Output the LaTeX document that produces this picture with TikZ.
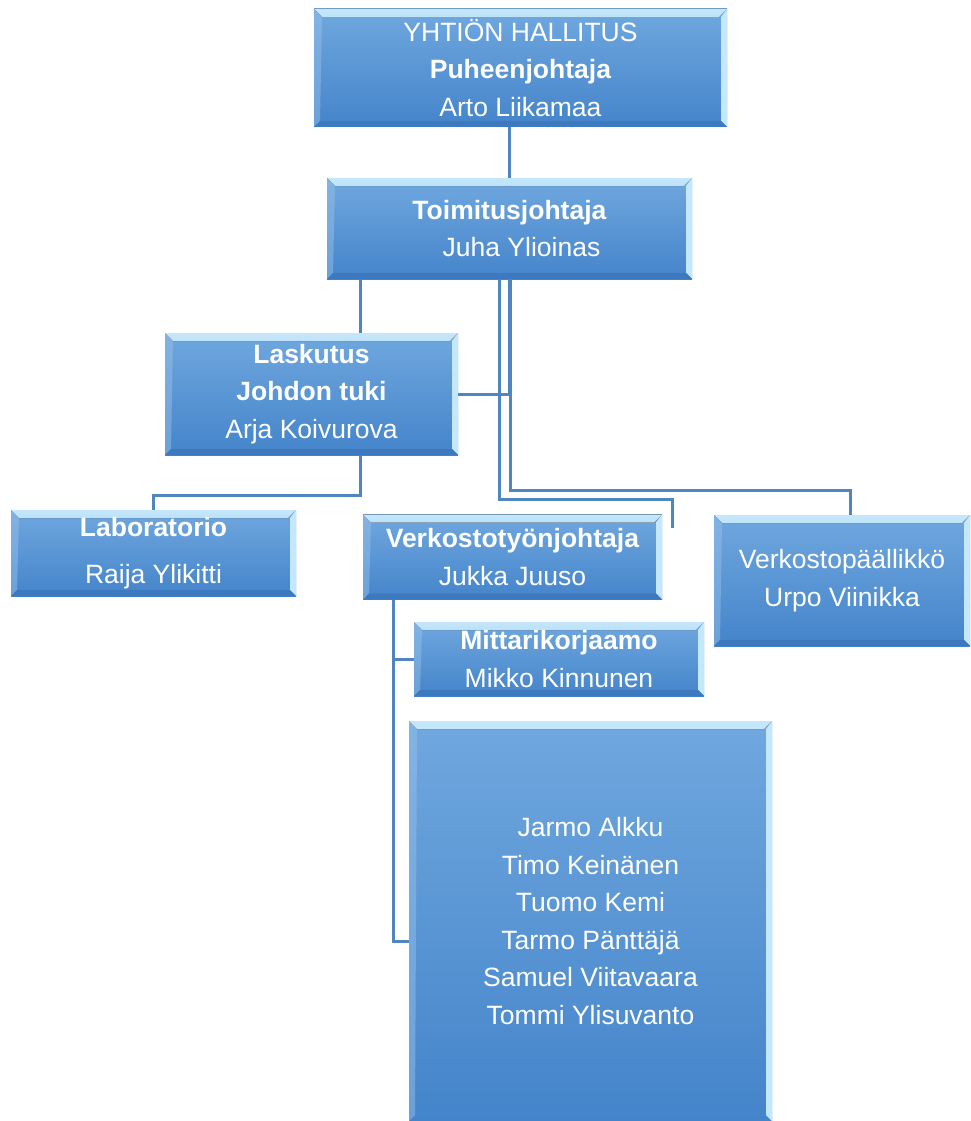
\documentclass[tikz,border=0pt]{standalone}
\usepackage{fontspec}
\setmainfont{Liberation Sans}
\usepackage{tikz}
\usetikzlibrary{calc}
\definecolor{boxtop}{HTML}{70A8DF}
\definecolor{boxbot}{HTML}{4484CA}
\definecolor{bevel}{HTML}{C4E7FB}
\definecolor{edge}{HTML}{3C79BF}
\definecolor{linja}{HTML}{4F86C2}
\tikzset{
  orgbase/.style={rectangle, top color=boxtop, bottom color=boxbot, text=white,
    align=center, inner sep=0pt, font=\fontsize{26.5}{37.5}\selectfont},
  bevels/.code={
      \fill[top color=bevel, bottom color=boxtop]
        (path picture bounding box.north west) -- (path picture bounding box.north east)
        -- ([shift={(-8pt,-8pt)}]path picture bounding box.north east)
        -- ([shift={(8pt,-8pt)}]path picture bounding box.north west) -- cycle;
      \fill[bevel]
        (path picture bounding box.north east) -- (path picture bounding box.south east)
        -- ([shift={(-6pt,6pt)}]path picture bounding box.south east)
        -- ([shift={(-6pt,-8pt)}]path picture bounding box.north east) -- cycle;
      \fill[boxtop!75!white, opacity=0.5]
        (path picture bounding box.north west) -- (path picture bounding box.south west)
        -- ([shift={(6pt,6pt)}]path picture bounding box.south west)
        -- ([shift={(8pt,-8pt)}]path picture bounding box.north west) -- cycle;
  },
  org/.style={orgbase, path picture={
      \tikzset{bevels}
      \fill[edge]
        (path picture bounding box.south west) -- (path picture bounding box.south east)
        -- ([shift={(-6pt,6pt)}]path picture bounding box.south east)
        -- ([shift={(6pt,6pt)}]path picture bounding box.south west) -- cycle;
    }},
  orgopen/.style={orgbase, path picture={\tikzset{bevels}}},
  conn/.style={draw=linja, line width=3pt}
}

\begin{document}
\begin{tikzpicture}[x=1pt, y=-1pt]
\useasboundingbox (0,0) rectangle (970,1121);
\node[org, minimum width=413pt, minimum height=118pt] (hallitus) at (520.5,68)
  {YHTIÖN HALLITUS\\\textbf{Puheenjohtaja}\\Arto Liikamaa};
\node[org, minimum width=365pt, minimum height=101pt] (toimitus) at (509.5,228.5)
  {\textbf{Toimitusjohtaja}\\\hspace*{24pt}Juha Ylioinas};
\node[org, minimum width=293pt, minimum height=122pt] (laskutus) at (311.5,394)
  {\textbf{Laskutus}\\\textbf{Johdon tuki}\\Arja Koivurova};
\node[org, minimum width=285pt, minimum height=86pt] (labra) at (153.5,553)
  {\textbf{Laboratorio}\\[10pt]Raija Ylikitti};
\node[org, minimum width=299pt, minimum height=85pt] (tyonjohto) at (512.5,557)
  {\textbf{Verkostotyönjohtaja}\\Jukka Juuso};
\node[org, minimum width=256pt, minimum height=131pt] (paallikko) at (842,580.5)
  {Verkostopäällikkö\\Urpo Viinikka};
\node[org, minimum width=290pt, minimum height=74pt] (mittari) at (559,659)
  {\textbf{Mittarikorjaamo}\\Mikko Kinnunen};
\node[orgopen, minimum width=363pt, minimum height=400pt] (asentajat) at (590.5,921)
  {Jarmo Alkku\\Timo Keinänen\\Tuomo Kemi\\Tarmo Pänttäjä\\Samuel Viitavaara\\Tommi Ylisuvanto};
\coordinate (vasen) at (360,495);
\coordinate (kulma) at (672,499);
\coordinate (tyoend) at (672,528);
\coordinate (oikea) at (850,490);
\coordinate (runko) at (393,941);
\draw[conn] (toimitus.north |- hallitus.south) -- (toimitus.north);
\draw[conn] (vasen |- toimitus.south) -- (vasen |- laskutus.north);
\draw[conn] (toimitus.south) |- (laskutus.east);
\draw[conn] ([xshift=-10pt]toimitus.south) |- (kulma) -- (tyoend);
\draw[conn] ([xshift=1pt]toimitus.south) |- (oikea) -- (oikea |- paallikko.north);
\draw[conn] (vasen |- laskutus.south) -- (vasen) -| (labra.north);
\draw[conn] (runko |- tyonjohto.south) -- (runko) -- (runko -| asentajat.west);
\draw[conn] (runko |- mittari.west) -- (mittari.west);
\end{tikzpicture}
\end{document}
